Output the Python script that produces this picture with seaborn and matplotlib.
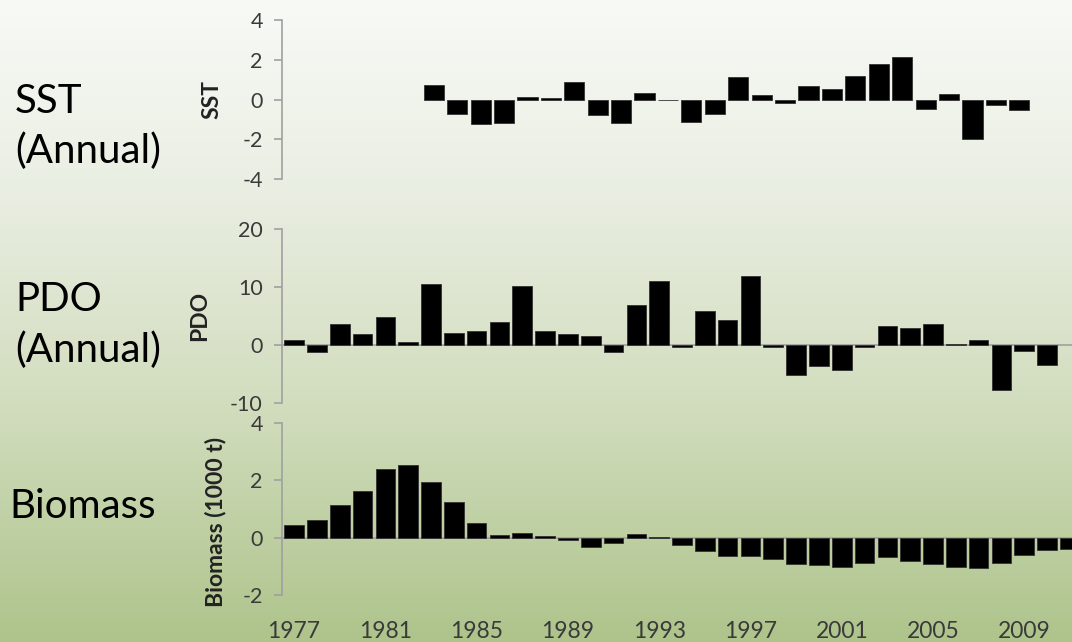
import numpy as np
import pandas as pd
import matplotlib
matplotlib.use('Agg')
import matplotlib.pyplot as plt
from matplotlib.colors import LinearSegmentedColormap
import seaborn as sns

# ── values ──
sst_years = list(range(1983, 2009))
sst_vals = [0.72, -0.73, -1.23, -1.17, 0.12, 0.10, 0.88, -0.78, -1.20, 0.35,
            -0.04, -1.12, -0.73, 1.13, 0.22, -0.17, 0.67, 0.55, 1.18, 1.77,
            2.13, -0.50, 0.27, -2.00, -0.28, -0.53]

pdo_years = list(range(1977, 2011))
pdo_vals = [0.87, -1.2, 3.6, 1.85, 4.9, 0.45, 10.5, 2.0, 2.5, 3.9,
            10.1, 2.5, 1.85, 1.6, -1.15, 6.9, 11.1, -0.4, 5.8, 4.3,
            11.9, -0.4, -5.2, -3.6, -4.3, -0.4, 3.3, 2.9, 3.6, 0.15,
            0.87, -7.7, -1.0, -3.5]

bio_years = list(range(1977, 2012))
bio_vals = [0.45, 0.63, 1.15, 1.64, 2.41, 2.54, 1.93, 1.25, 0.52, 0.09,
            0.17, 0.06, -0.08, -0.31, -0.18, 0.14, 0.02, -0.24, -0.47, -0.65,
            -0.65, -0.74, -0.93, -0.97, -1.01, -0.87, -0.69, -0.83, -0.93, -1.01,
            -1.07, -0.87, -0.59, -0.42, -0.38]

year_ticks = list(range(1977, 2010, 4))

sns.set_style('ticks')
plt.rcParams['font.family'] = ['Lato', 'DejaVu Sans']
plt.rcParams['axes.unicode_minus'] = False

W, H = 1072, 642
fig = plt.figure(figsize=(W / 100, H / 100), dpi=100)

# fondo degradado blanco -> verde
bg = fig.add_axes([0, 0, 1, 1], zorder=-10)
cmap = LinearSegmentedColormap.from_list(
    'bg', [(0, '#f8faf6'), (0.3, '#e9eee2'), (0.63, '#d2ddbe'), (1, '#aec48b')])
bg.imshow(np.linspace(0, 1, 256).reshape(-1, 1), aspect='auto', cmap=cmap,
          extent=[0, 1, 0, 1], origin='upper')
bg.axis('off')


def px_box(top, bottom, left=282, right=W):
    return [left / W, 1 - bottom / H, (right - left) / W, (bottom - top) / H]


GRAY = '#a0a0a0'
TXT = '#3a3a3a'

panels = [
    dict(years=sst_years, vals=sst_vals, box=px_box(20, 179), ylim=(-4, 4),
         yticks=[-4, -2, 0, 2, 4], xlim=(1976.52, 2010.25), ylabel='SST',
         lab_x=222, lab_y=0.5, zero=False),
    dict(years=pdo_years, vals=pdo_vals, box=px_box(229, 403), ylim=(-10, 20),
         yticks=[-10, 0, 10, 20], xlim=(1976.47, 2011.09), ylabel='PDO',
         lab_x=210, lab_y=0.5, zero=True),
    dict(years=bio_years, vals=bio_vals, box=px_box(423, 595), ylim=(-2, 4),
         yticks=[-2, 0, 2, 4], xlim=(1976.47, 2011.09), ylabel='Biomass (1000 t)',
         lab_x=226, lab_y=0.424, zero=True),
]

axes = []
for p in panels:
    ax = fig.add_axes(p['box'])
    ax.set_facecolor('none')
    df = pd.DataFrame({'year': p['years'], 'value': p['vals']})
    if p['zero']:
        ax.axhline(0, color=GRAY, lw=1.2, zorder=0)
    sns.barplot(data=df, x='year', y='value', native_scale=True, width=0.86,
                color='black', saturation=1, edgecolor='#333333', linewidth=0.6,
                errorbar=None, ax=ax, zorder=2)
    ax.set_xlim(*p['xlim'])
    ax.set_ylim(*p['ylim'])
    ax.set_yticks(p['yticks'])
    ax.set_yticklabels([str(v) for v in p['yticks']])
    for s in ['top', 'right', 'bottom']:
        ax.spines[s].set_visible(False)
    ax.spines['left'].set_color(GRAY)
    ax.spines['left'].set_linewidth(1.2)
    ax.tick_params(axis='y', direction='out', length=5.8, width=1.2, color=GRAY,
                   labelsize=15.5, labelcolor=TXT, pad=8)
    ax.set_ylabel(p['ylabel'], fontsize=16.5, fontweight='bold', color='#222222')
    ax.yaxis.set_label_coords((p['lab_x'] - 282) / (W - 282), p['lab_y'])
    ax.set_xlabel('')
    axes.append(ax)

for ax in axes[:2]:
    ax.set_xticks([])

ax = axes[2]
ax.set_xticks(year_ticks)
ax.set_xticklabels([str(y) for y in year_ticks])
ax.tick_params(axis='x', length=0, labelsize=16.5, labelcolor=TXT, pad=19)

# etiquetas de la izquierda
side = dict(fontsize=29, color='black', ha='left', va='baseline')
fig.text(15 / W, 1 - 113 / H, 'SST', **side)
fig.text(15 / W, 1 - 163 / H, '(Annual)', **side)
fig.text(15 / W, 1 - 311 / H, 'PDO', **side)
fig.text(15 / W, 1 - 362 / H, '(Annual)', **side)
fig.text(9 / W, 1 - 518 / H, 'Biomass', **side)

fig.savefig('out.png', dpi=100)
